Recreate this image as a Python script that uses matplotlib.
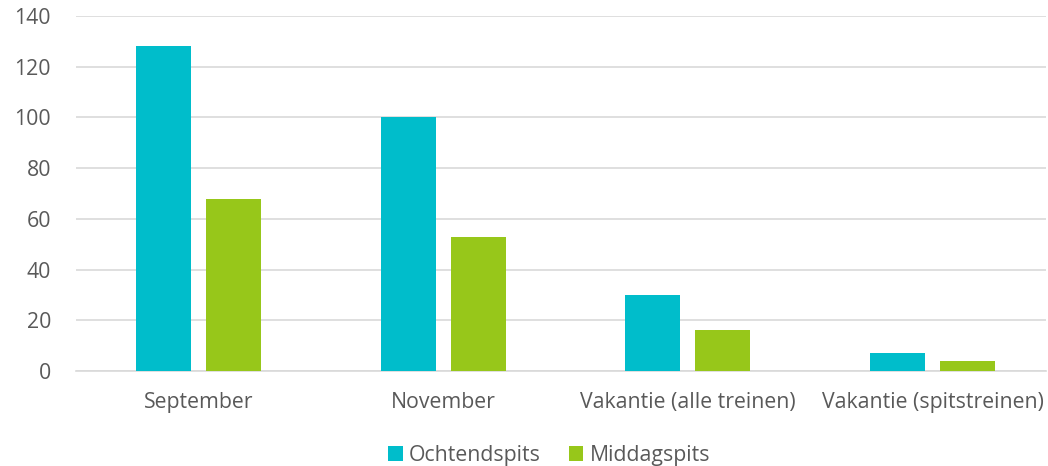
import matplotlib.pyplot as plt
import numpy as np

categories = ["September", "November", "Vakantie (alle treinen)", "Vakantie (spitstreinen)"]
ochtend = [128, 100, 30, 7]
middag = [68, 53, 16, 4]
series_names = ["Ochtendspits", "Middagspits"]

plt.rcParams['font.family'] = ['Open Sans', 'DejaVu Sans']
text_color = '#595959'
fs = 15.3

fig = plt.figure(figsize=(10.48, 4.66), dpi=100)
ax = fig.add_axes((76 / 1048, 95 / 466, 970 / 1048, 355 / 466))

x = np.arange(len(categories))
w = 0.225
off = 0.143
ax.bar(x - off, ochtend, w, color='#00BDCB', label=series_names[0], zorder=3)
ax.bar(x + off, middag, w, color='#97C71A', label=series_names[1], zorder=3)

ax.set_ylim(0, 140)
ax.set_xlim(-0.5, 3.463)
ax.set_yticks(range(0, 141, 20))
ax.set_xticks(x)
ax.set_xticklabels(categories)
ax.yaxis.grid(True, color='#D9D9D9', linewidth=1.2, zorder=0)
for s in ['top', 'right', 'left']:
    ax.spines[s].set_visible(False)
ax.spines['bottom'].set_color('#D9D9D9')
ax.spines['bottom'].set_linewidth(1.2)
ax.tick_params(axis='both', length=0, labelsize=fs, colors=text_color)
ax.tick_params(axis='x', pad=15)
ax.tick_params(axis='y', pad=18)

ax.legend(loc='center', bbox_to_anchor=(549 / 1048, 11 / 466), bbox_transform=fig.transFigure,
          ncol=2, frameon=False, fontsize=fs, labelcolor=text_color,
          handlelength=0.7, handleheight=0.7, handletextpad=0.3, columnspacing=1.3)

fig.savefig('out.png', dpi=100)
